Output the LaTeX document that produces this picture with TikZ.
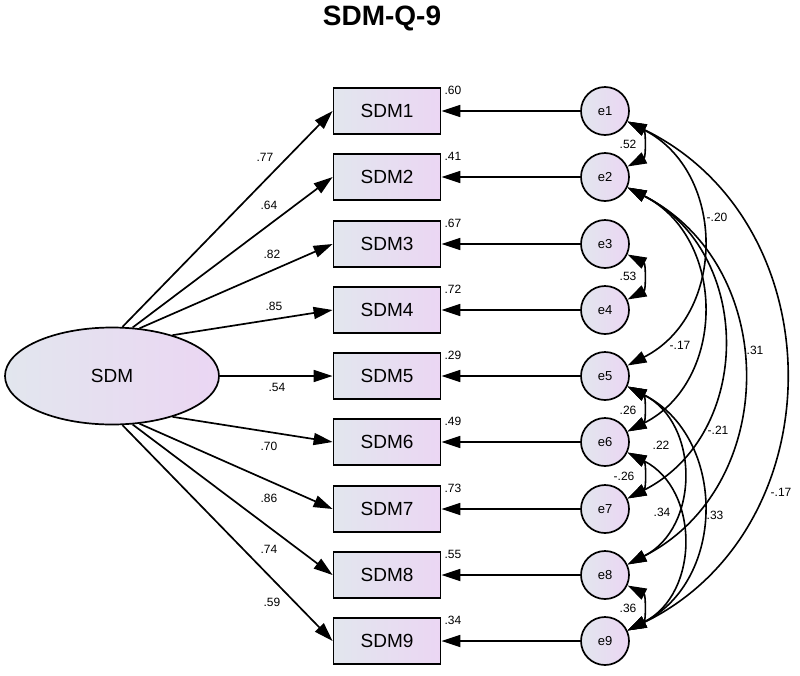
\documentclass[tikz,border=0pt]{standalone}
\usepackage{fontspec}
\setmainfont{Liberation Sans}
\usetikzlibrary{arrows.meta,shapes.geometric,calc}
\definecolor{fillA}{RGB}{226,230,238}
\definecolor{fillB}{RGB}{235,214,243}
\begin{document}
\begin{tikzpicture}[x=1pt,y=-1pt,
  every node/.style={inner sep=0pt},
  obs/.style={draw, line width=1.8pt, minimum width=107pt, minimum height=46pt,
    left color=fillA, right color=fillB, font=\fontsize{19}{19}\selectfont},
  err/.style={circle, draw, line width=1.7pt, minimum size=48pt,
    left color=fillA, right color=fillB, font=\fontsize{13}{13}\selectfont},
  lat/.style={ellipse, draw, line width=1.7pt, minimum width=214pt, minimum height=97pt,
    left color=fillA, right color=fillB, font=\fontsize{19}{19}\selectfont},
  coef/.style={font=\fontsize{12}{12}\selectfont},
  loadarrow/.style={line width=1.7pt, -{Triangle[length=19pt,width=12pt]}},
  cov/.style={line width=1.6pt, {Triangle[length=19pt,width=12pt]}-{Triangle[length=19pt,width=12pt]},
    bend left=63, looseness=1.17},
]
\useasboundingbox (0,0) rectangle (800,675);

\node[font=\bfseries\fontsize{28}{28}\selectfont] (title) at (382,18) {SDM-Q-9};

\node[lat] (SDM) at (112,376) {SDM};

\foreach \i/\yy in {1/111,2/177,3/244,4/310,5/376,6/442,7/509,8/575,9/641}{
  \node[obs] (SDM\i) at (387,\yy) {SDM\i};
  \node[err] (e\i) at (605,\yy) {e\i};
  \draw[loadarrow] (e\i.west) -- (SDM\i.east);
}

% squared multiple correlations
\foreach \i/\r in {1/.60,2/.41,3/.67,4/.72,5/.29,6/.49,7/.73,8/.55,9/.34}{
  \node[coef, anchor=west] (r\i) at ($(SDM\i.north east)+(3,3)$) {\r};
}

% loadings
\foreach \i/\a in {1/78,2/67,3/60,4/34,5/0,6/-34,7/-60,8/-67,9/-78}{
  \draw[loadarrow] (SDM.\a) -- (SDM\i.west);
}
\node[coef] (l1) at (265,157) {.77};
\node[coef] (l2) at (269,205) {.64};
\node[coef] (l3) at (272,254) {.82};
\node[coef] (l4) at (274,306) {.85};
\node[coef] (l5) at (277,387) {.54};
\node[coef] (l6) at (269,446) {.70};
\node[coef] (l7) at (269,498) {.86};
\node[coef] (l8) at (269,549) {.74};
\node[coef] (l9) at (272,602) {.59};

% covariances
\foreach \a/\b in {1/2,3/4,5/6,6/7,8/9,1/5,2/6,2/7,2/8,5/8,5/9,6/9}{
  \draw[cov] (e\a.-25) to (e\b.25);
}
\draw[cov, bend left=64, looseness=1.17] (e1.-25) to (e9.25);
\node[coef] (c12) at (628,144) {.52};
\node[coef] (c34) at (628,276) {.53};
\node[coef] (c56) at (628,410) {.26};
\node[coef] (c67) at (624,476) {-.26};
\node[coef] (c89) at (628,608) {.36};
\node[coef] (c15) at (717,217) {-.20};
\node[coef] (c26) at (680,345) {-.17};
\node[coef] (c28) at (755,350) {.31};
\node[coef] (c58) at (661,445) {.22};
\node[coef] (c27) at (718,430) {-.21};
\node[coef] (c69) at (662,512) {.34};
\node[coef] (c59) at (715,515) {.33};
\node[coef] (c19) at (781,492) {-.17};
\end{tikzpicture}
\end{document}
